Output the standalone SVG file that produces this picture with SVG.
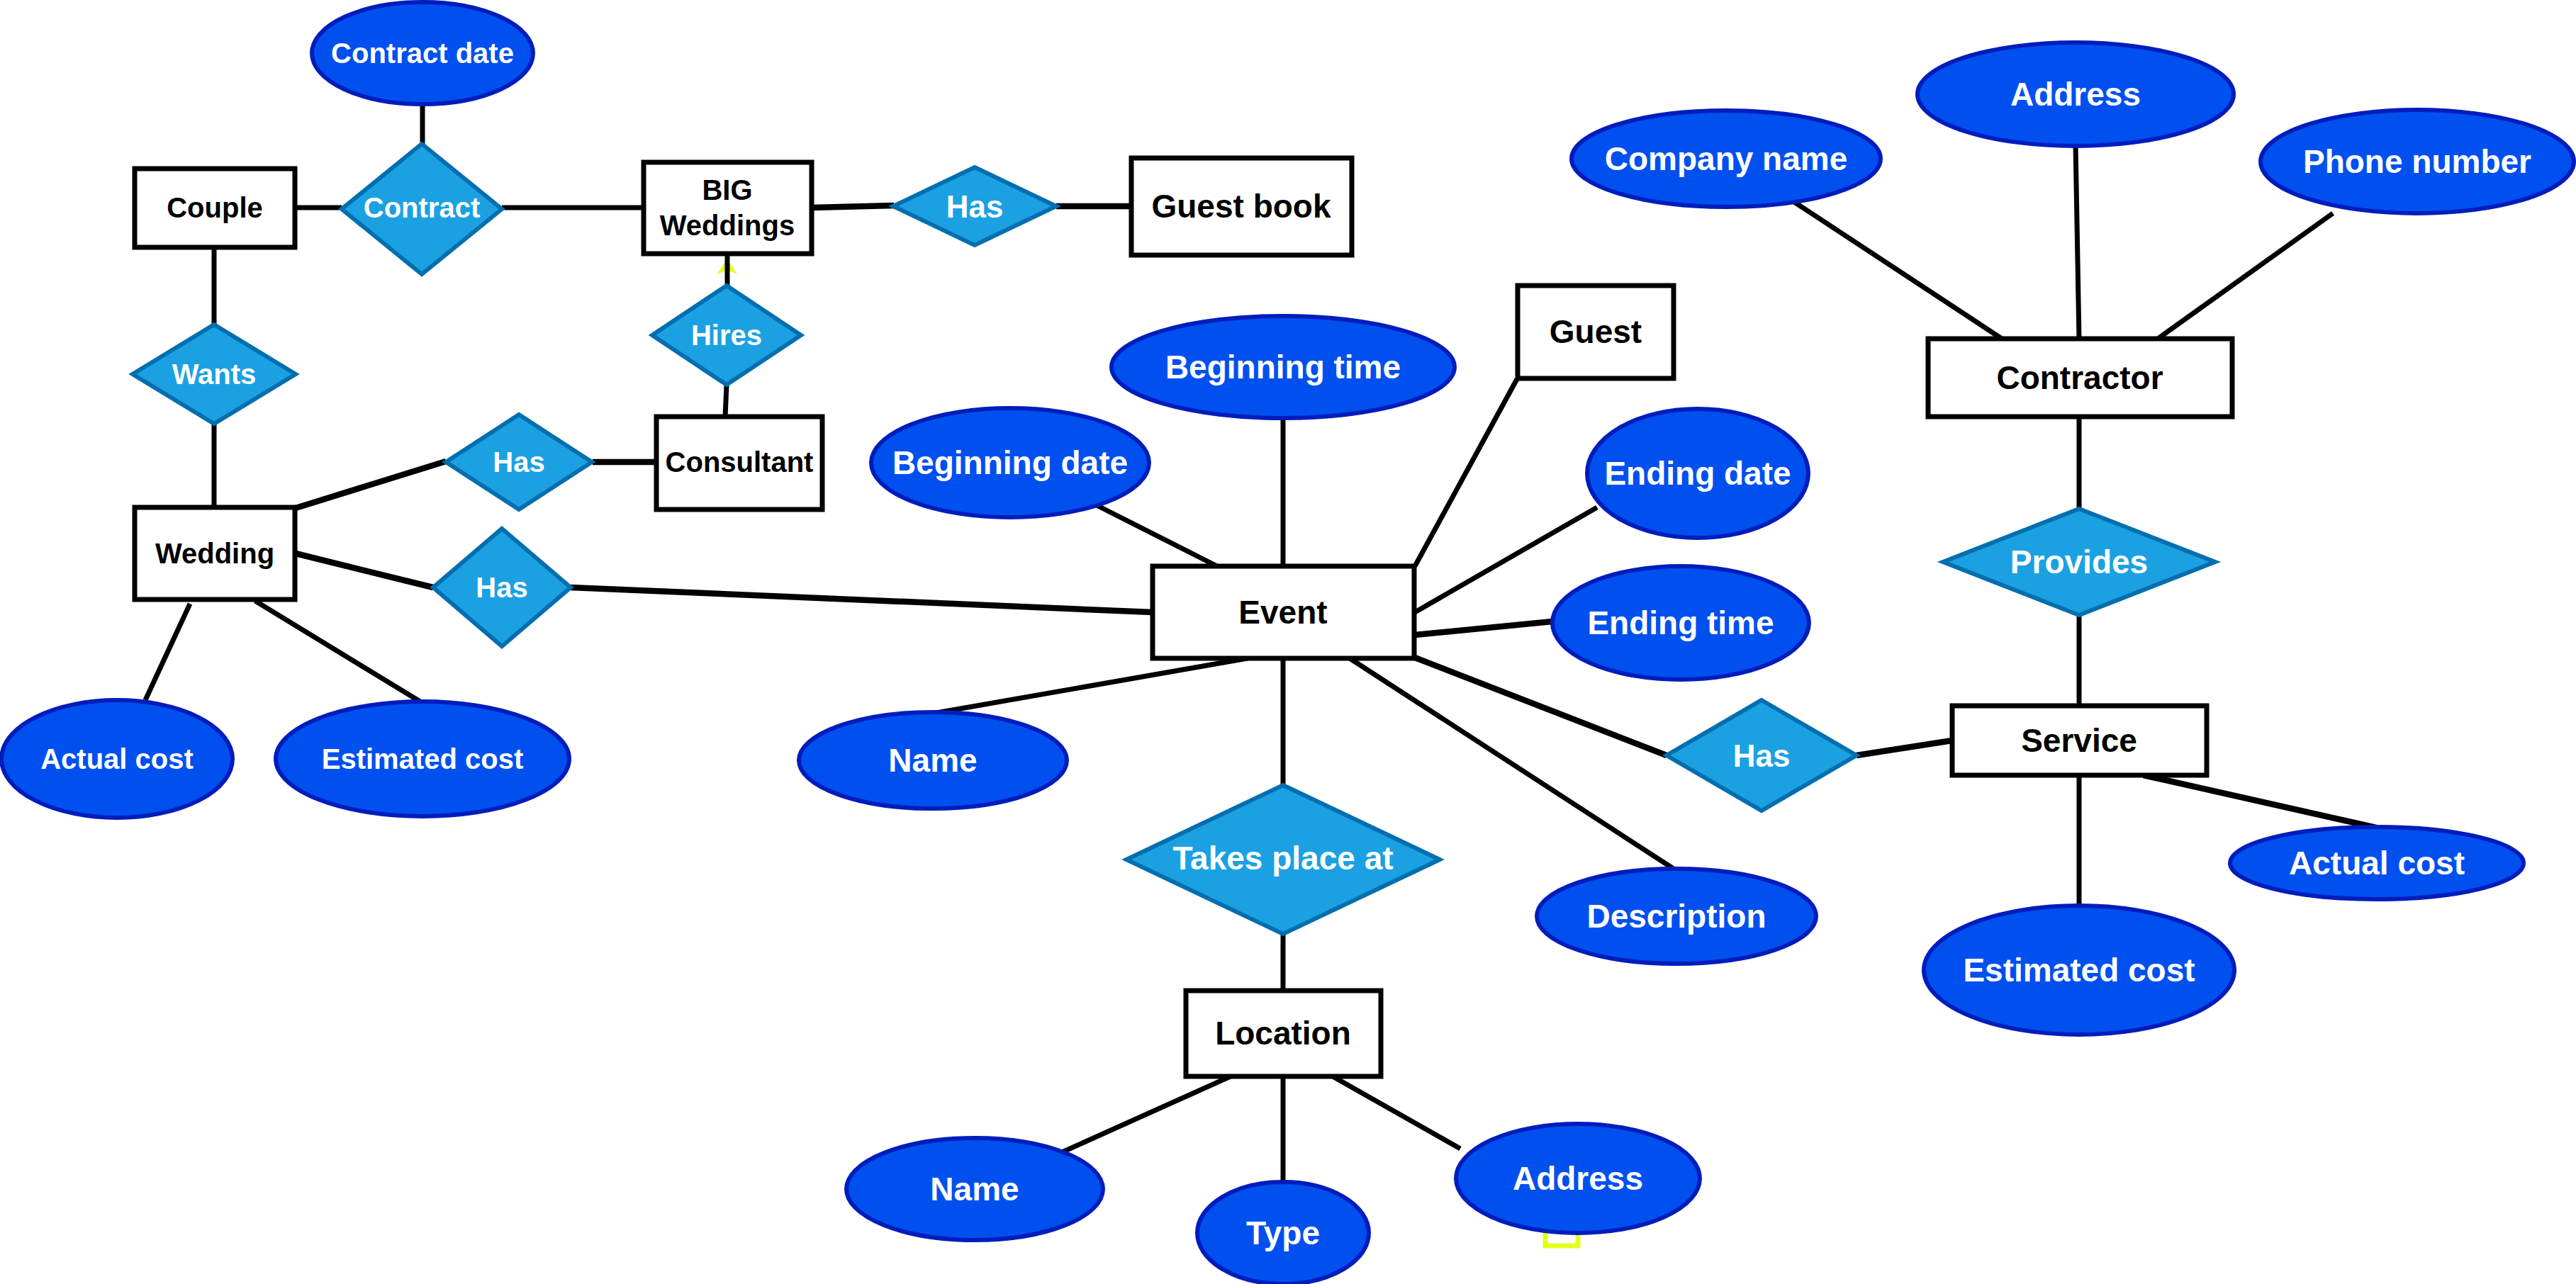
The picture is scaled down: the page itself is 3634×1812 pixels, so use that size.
<svg xmlns="http://www.w3.org/2000/svg" width="3634" height="1812" viewBox="0 0 3634 1812">
<style>
text{font-family:"Liberation Sans",Arial,Helvetica,sans-serif;font-weight:bold;text-anchor:middle;dominant-baseline:central}
.s{font-size:40px}
.l{font-size:46px}
.m{font-size:44px}
.att ellipse{fill:#0050ef;stroke:#001DBC;stroke-width:6}
.att text{fill:#ffffff}
.ent rect{fill:#ffffff;stroke:#000000;stroke-width:7}
.ent text{fill:#000000}
.rel polygon{fill:#1ba1e2;stroke:#006EAF;stroke-width:6}
.rel text{fill:#ffffff}
#connectors line{stroke:#000000;stroke-width:7;stroke-linecap:butt}
#connectors line.t{stroke-width:8.5}
.mark{fill:none;stroke:#e4ff1c;stroke-width:7}
</style>
<rect width="3634" height="1812" fill="#ffffff"/>
<polygon points="1026,366 1040,387 1026,381 1011,387" fill="#e4ff1c"/>
<rect class="mark" x="2180" y="1718" width="46" height="40"/>
<g id="connectors">
<line x1="596" y1="147" x2="596" y2="203"/>
<line x1="417" y1="293" x2="482" y2="293"/>
<line x1="708" y1="293" x2="908" y2="293"/>
<line class="t" x1="1146" y1="293" x2="1261" y2="290"/>
<line class="t" x1="1490" y1="291" x2="1596" y2="291"/>
<line x1="302" y1="350" x2="302" y2="458"/>
<line x1="302" y1="598" x2="302" y2="716"/>
<line x1="1026" y1="359" x2="1026" y2="403"/>
<line x1="1025" y1="543" x2="1023" y2="588"/>
<line class="t" x1="417" y1="717" x2="629" y2="651"/>
<line class="t" x1="836" y1="652" x2="926" y2="652"/>
<line class="t" x1="417" y1="781" x2="611" y2="829"/>
<line class="t" x1="805" y1="829" x2="1626" y2="864"/>
<line x1="268" y1="852" x2="205" y2="988"/>
<line x1="360" y1="848" x2="596" y2="992"/>
<line x1="1545" y1="712" x2="1717" y2="799"/>
<line x1="1810" y1="590" x2="1810" y2="799"/>
<line x1="2140" y1="535" x2="1996" y2="799"/>
<line x1="2253" y1="716" x2="1996" y2="864"/>
<line class="t" x1="2190" y1="877" x2="1996" y2="896"/>
<line x1="1760" y1="929" x2="1315" y2="1007"/>
<line x1="1810" y1="929" x2="1810" y2="1108"/>
<line x1="1904" y1="929" x2="2364" y2="1228"/>
<line class="t" x1="1996" y1="928" x2="2351" y2="1066"/>
<line class="t" x1="2619" y1="1066" x2="2754" y2="1045"/>
<line x1="2933" y1="588" x2="2933" y2="718"/>
<line x1="2933" y1="868" x2="2933" y2="996"/>
<line class="t" x1="3024" y1="1094" x2="3352" y2="1168"/>
<line x1="2933" y1="1094" x2="2933" y2="1278"/>
<line x1="2525" y1="281" x2="2824" y2="478"/>
<line x1="2928" y1="204" x2="2933" y2="478"/>
<line x1="3291" y1="301" x2="3044" y2="478"/>
<line x1="1810" y1="1318" x2="1810" y2="1398"/>
<line x1="1736" y1="1519" x2="1496" y2="1627"/>
<line x1="1810" y1="1519" x2="1810" y2="1667"/>
<line x1="1880" y1="1519" x2="2060" y2="1621"/>
</g>
<g id="n-contract-date" class="att"><ellipse cx="596" cy="75" rx="156" ry="72"/><text class="s" x="596" y="75">Contract date</text></g>
<g id="n-couple" class="ent"><rect x="190" y="238" width="226" height="111"/><text class="s" x="303" y="293">Couple</text></g>
<g id="n-contract" class="rel"><polygon points="595,203 708,295 595,387 482,295"/><text class="s" x="595" y="293">Contract</text></g>
<g id="n-big" class="ent"><rect x="908" y="229" width="237" height="129"/><text class="s" x="1026" y="268">BIG</text><text class="s" x="1026" y="318">Weddings</text></g>
<g id="n-has1" class="rel"><polygon points="1375,236 1490,291 1375,346 1260,291"/><text class="m" x="1375" y="291">Has</text></g>
<g id="n-guestbook" class="ent"><rect x="1596" y="223" width="311" height="137"/><text class="l" x="1751" y="291">Guest book</text></g>
<g id="n-wants" class="rel"><polygon points="302,458 417,528 302,598 187,528"/><text class="s" x="302" y="528">Wants</text></g>
<g id="n-hires" class="rel"><polygon points="1025,403 1130,473 1025,543 920,473"/><text class="s" x="1025" y="473">Hires</text></g>
<g id="n-has2" class="rel"><polygon points="732,585 835,652 732,719 629,652"/><text class="s" x="732" y="652">Has</text></g>
<g id="n-consultant" class="ent"><rect x="926" y="588" width="234" height="131"/><text class="s" x="1043" y="652">Consultant</text></g>
<g id="n-wedding" class="ent"><rect x="190" y="716" width="226" height="130"/><text class="s" x="303" y="781">Wedding</text></g>
<g id="n-has3" class="rel"><polygon points="708,746 805,829 708,912 611,829"/><text class="s" x="708" y="829">Has</text></g>
<g id="n-actual-cost-1" class="att"><ellipse cx="165" cy="1071" rx="163" ry="83"/><text class="s" x="165" y="1071">Actual cost</text></g>
<g id="n-estimated-cost-1" class="att"><ellipse cx="596" cy="1071" rx="207" ry="81"/><text class="s" x="596" y="1071">Estimated cost</text></g>
<g id="n-beginning-date" class="att"><ellipse cx="1425" cy="653" rx="196" ry="77"/><text class="l" x="1425" y="653">Beginning date</text></g>
<g id="n-beginning-time" class="att"><ellipse cx="1810" cy="518" rx="242" ry="72"/><text class="l" x="1810" y="518">Beginning time</text></g>
<g id="n-guest" class="ent"><rect x="2141" y="403" width="220" height="131"/><text class="l" x="2251" y="468">Guest</text></g>
<g id="n-ending-date" class="att"><ellipse cx="2395" cy="668" rx="156" ry="91"/><text class="l" x="2395" y="668">Ending date</text></g>
<g id="n-event" class="ent"><rect x="1626" y="799" width="369" height="130"/><text class="l" x="1810" y="864">Event</text></g>
<g id="n-ending-time" class="att"><ellipse cx="2371" cy="879" rx="181" ry="80"/><text class="l" x="2371" y="879">Ending time</text></g>
<g id="n-name-1" class="att"><ellipse cx="1316" cy="1073" rx="189" ry="68"/><text class="l" x="1316" y="1073">Name</text></g>
<g id="n-has4" class="rel"><polygon points="2485,988 2619,1066 2485,1144 2351,1066"/><text class="m" x="2485" y="1066">Has</text></g>
<g id="n-service" class="ent"><rect x="2754" y="996" width="359" height="98"/><text class="l" x="2933" y="1045">Service</text></g>
<g id="n-takes" class="rel"><polygon points="1810,1108 2031,1213 1810,1318 1589,1213"/><text class="l" x="1810" y="1211">Takes place at</text></g>
<g id="n-description" class="att"><ellipse cx="2365" cy="1293" rx="197" ry="67"/><text class="l" x="2365" y="1293">Description</text></g>
<g id="n-actual-cost-2" class="att"><ellipse cx="3353" cy="1218" rx="207" ry="51"/><text class="l" x="3353" y="1218">Actual cost</text></g>
<g id="n-estimated-cost-2" class="att"><ellipse cx="2933" cy="1369" rx="219" ry="91"/><text class="l" x="2933" y="1369">Estimated cost</text></g>
<g id="n-contractor" class="ent"><rect x="2720" y="478" width="429" height="110"/><text class="l" x="2934" y="533">Contractor</text></g>
<g id="n-company-name" class="att"><ellipse cx="2435" cy="224" rx="218" ry="68"/><text class="l" x="2435" y="224">Company name</text></g>
<g id="n-address-1" class="att"><ellipse cx="2928" cy="133" rx="223" ry="73"/><text class="l" x="2928" y="133">Address</text></g>
<g id="n-phone-number" class="att"><ellipse cx="3410" cy="228" rx="221" ry="73"/><text class="l" x="3410" y="228">Phone number</text></g>
<g id="n-provides" class="rel"><polygon points="2933,718 3125,793 2933,868 2741,793"/><text class="l" x="2933" y="793">Provides</text></g>
<g id="n-location" class="ent"><rect x="1673" y="1398" width="275" height="121"/><text class="l" x="1810" y="1458">Location</text></g>
<g id="n-name-2" class="att"><ellipse cx="1375" cy="1678" rx="181" ry="72"/><text class="l" x="1375" y="1678">Name</text></g>
<g id="n-type" class="att"><ellipse cx="1810" cy="1740" rx="121" ry="72"/><text class="l" x="1810" y="1740">Type</text></g>
<g id="n-address-2" class="att"><ellipse cx="2226" cy="1663" rx="172" ry="77"/><text class="l" x="2226" y="1663">Address</text></g>
</svg>
